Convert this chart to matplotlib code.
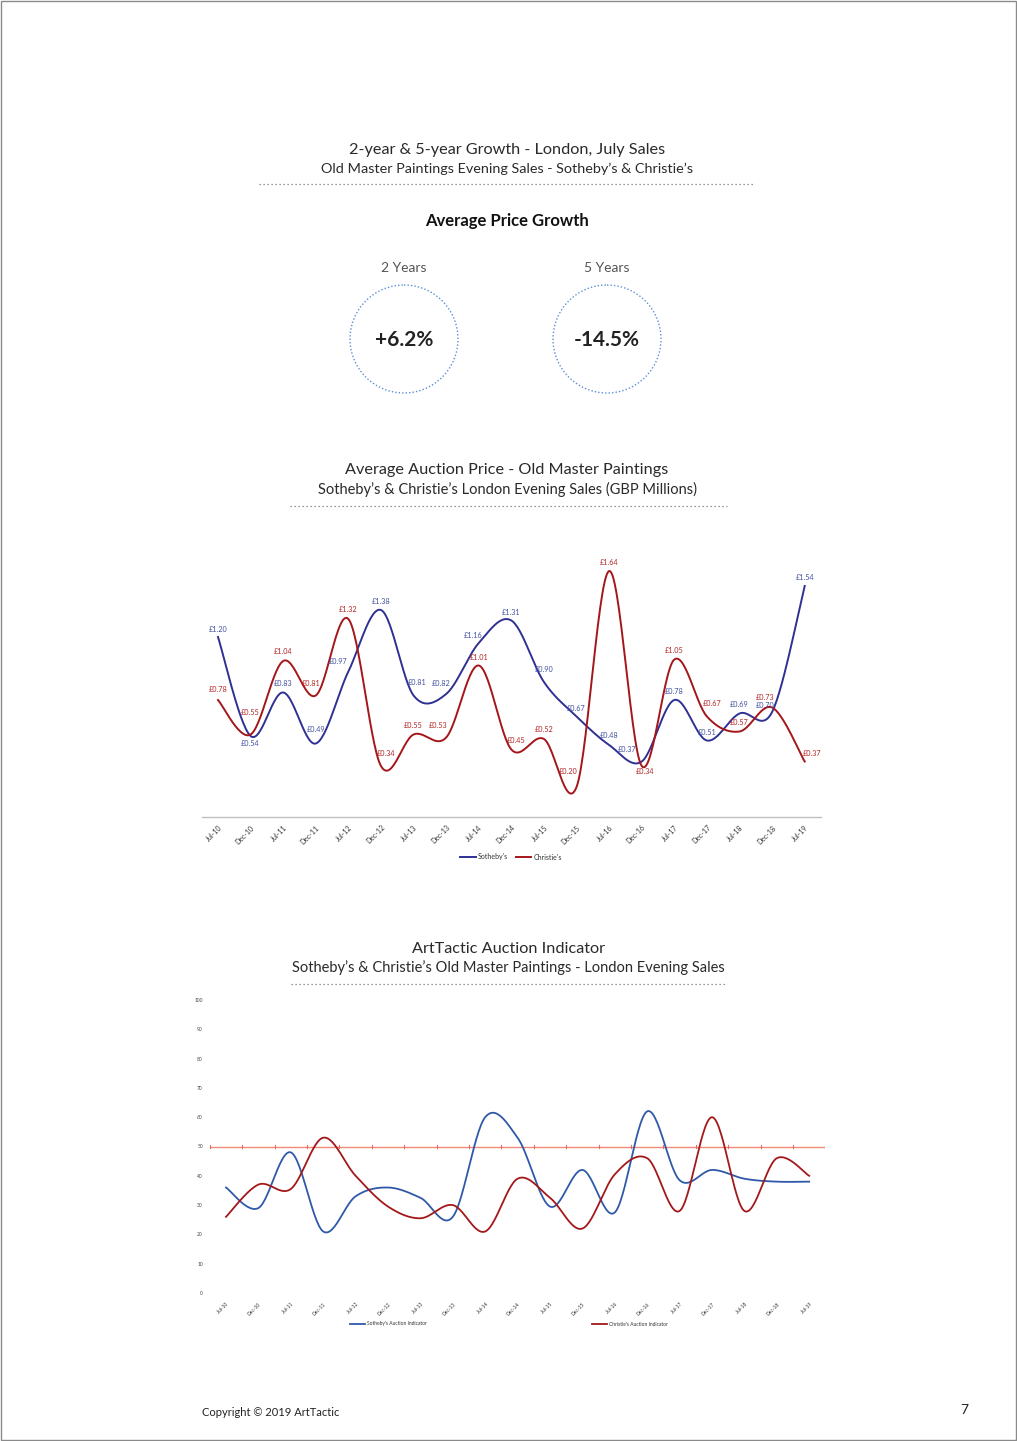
import numpy as np
import matplotlib
matplotlib.use("Agg")
import matplotlib.pyplot as plt
from matplotlib.patches import Circle, Rectangle

plt.rcParams['font.family'] = ['Lato', 'DejaVu Sans']

# ---------------- data ----------------
periods = ["Jul-10", "Dec-10", "Jul-11", "Dec-11", "Jul-12", "Dec-12", "Jul-13",
           "Dec-13", "Jul-14", "Dec-14", "Jul-15", "Dec-15", "Jul-16", "Dec-16",
           "Jul-17", "Dec-17", "Jul-18", "Dec-18", "Jul-19"]

sothebys_price = [1.20, 0.54, 0.83, 0.49, 0.97, 1.38, 0.81, 0.82, 1.16, 1.31,
                  0.90, 0.67, 0.48, 0.37, 0.78, 0.51, 0.69, 0.70, 1.54]
christies_price = [0.78, 0.55, 1.04, 0.81, 1.32, 0.34, 0.55, 0.53, 1.01, 0.45,
                   0.52, 0.20, 1.64, 0.34, 1.05, 0.67, 0.57, 0.73, 0.37]

sothebys_indicator = [36, 29, 48, 21, 33, 36, 32.5, 26, 60, 53,
                      29.5, 42, 27.5, 62, 38.5, 42, 39, 38, 38]
christies_indicator = [26, 37, 35.5, 53, 40, 29.5, 25.5, 30, 21, 39,
                       32.5, 22, 40.5, 46, 28, 60, 28, 46, 40]

growth_labels = ["2 Years", "5 Years"]
growth_values = ["+6.2%", "-14.5%"]

# label offsets (pixels) for the price data labels -- style only
s_off = [(0, 8), (0, -8), (0, 9), (0, 14), (-10, 10), (0, 8), (4, 13), (-5, 10),
         (-6, 7), (0, 8), (0, 12), (0, 8), (0, 10), (-15, 12), (0, 8), (0, 8),
         (0, 9), (-7, 7), (0, 8)]
c_off = [(0, 10), (0, 22), (0, 9), (-5, 12), (0, 9), (5, 12), (0, 9), (-8, 12),
         (0, 8), (5, 9), (0, 9), (-8, 15), (0, 8), (3, -6), (0, 9), (5, 13),
         (0, 9), (-7, 10), (7, 8)]

W, H = 1017, 1441
fig = plt.figure(figsize=(W / 100, H / 100), dpi=100)
fig.patch.set_facecolor("white")


def px_axes(left, top, right, bottom, **kw):
    return fig.add_axes([left / W, 1 - bottom / H, (right - left) / W, (bottom - top) / H], **kw)


# overlay for page decorations
ov = px_axes(0, 0, W, H)
ov.set_xlim(0, W)
ov.set_ylim(H, 0)
ov.axis("off")
ov.set_zorder(-1)

ov.add_patch(Rectangle((0.5, 0.5), W - 2, H - 2, fill=False, ec="#8a8a8a", lw=1))

title_c = "#2a2a2a"
ov.text(507, 150, "2-year & 5-year Growth - London, July Sales", ha="center", va="center",
        fontsize=11.7, color=title_c)
ov.text(507, 169, "Old Master Paintings Evening Sales - Sotheby\u2019s & Christie\u2019s", ha="center",
        va="center", fontsize=10.4, color=title_c)
ov.plot([259, 755], [184, 184], color="#777777", lw=0.9, ls=(0, (1, 2.2)))
ov.text(507, 221, "Average Price Growth", ha="center", va="center", fontsize=12,
        fontweight="bold", color="#111111")

for cx, lab, val in zip([404, 607], growth_labels, growth_values):
    ov.text(cx, 268, lab, ha="center", va="center", fontsize=10, color="#555555")
    ov.add_patch(Circle((cx, 339), 54, fill=False, ec="#5b8fd8", lw=1.0, ls=(0, (1, 1.5))))
    ov.text(cx, 340, val, ha="center", va="center", fontsize=15, color="#222222", fontweight="bold")

ov.text(507, 470, "Average Auction Price - Old Master Paintings", ha="center", va="center",
        fontsize=11.7, color=title_c)
ov.text(507, 489, "Sotheby\u2019s & Christie\u2019s London Evening Sales (GBP Millions)", ha="center",
        va="center", fontsize=10.5, color=title_c)
ov.plot([290, 727], [506, 506], color="#777777", lw=0.9, ls=(0, (1, 2.2)))

ov.text(508, 949, "ArtTactic Auction Indicator", ha="center", va="center",
        fontsize=11.7, color=title_c)
ov.text(508, 968, "Sotheby\u2019s & Christie\u2019s Old Master Paintings - London Evening Sales",
        ha="center", va="center", fontsize=10.5, color=title_c)
ov.plot([291, 727], [984, 984], color="#777777", lw=0.9, ls=(0, (1, 2.2)))

ov.text(202, 1412, "Copyright \u00a9 2019 ArtTactic", ha="left", va="center", fontsize=8, color="#222222")
ov.text(964, 1410, "7", ha="center", va="center", fontsize=10, color="#222222")


def excel_smooth(x, y, n=30):
    pts = np.column_stack([np.asarray(x, float), np.asarray(y, float)])
    out = []
    for i in range(len(pts) - 1):
        p0 = pts[i - 1] if i > 0 else pts[i]
        p1, p2 = pts[i], pts[i + 1]
        p3 = pts[i + 2] if i + 2 < len(pts) else pts[i + 1]
        c1 = p1 + (p2 - p0) / 6
        c2 = p2 - (p3 - p1) / 6
        t = np.linspace(0, 1, n)[:, None]
        seg = (1 - t) ** 3 * p1 + 3 * (1 - t) ** 2 * t * c1 + 3 * (1 - t) * t ** 2 * c2 + t ** 3 * p2
        out.append(seg if i == 0 else seg[1:])
    s = np.vstack(out)
    return s[:, 0], s[:, 1]


# ---------------- middle chart ----------------
blue1 = "#2e3192"
red1 = "#a4161a"
ax = px_axes(201.7, 547, 821, 817)
x = np.arange(len(periods))
xs, ys = excel_smooth(x, sothebys_price)
ax.plot(xs, ys, color=blue1, lw=1.4, label="Sotheby's")
xc, yc = excel_smooth(x, christies_price)
ax.plot(xc, yc, color=red1, lw=1.4, label="Christie's")
ax.set_xlim(-0.5, len(periods) - 0.5)
ax.set_ylim(0, 1.8)
for i in range(len(periods)):
    ax.annotate(f"\u00a3{sothebys_price[i]:.2f}", (x[i], sothebys_price[i]), xytext=s_off[i],
                textcoords="offset pixels", ha="center", va="center", fontsize=5.2, color="#4150a0")
    ax.annotate(f"\u00a3{christies_price[i]:.2f}", (x[i], christies_price[i]), xytext=c_off[i],
                textcoords="offset pixels", ha="center", va="center", fontsize=5.2, color="#b32424")
for s in ["top", "right", "left"]:
    ax.spines[s].set_visible(False)
ax.spines["bottom"].set_color("#bfbfbf")
ax.spines["bottom"].set_linewidth(1)
ax.set_yticks([])
ax.set_xticks(x)
ax.set_xticklabels(periods, rotation=45, ha="right", va="top", rotation_mode="anchor",
                   fontsize=5, color="#333333")
ax.tick_params(axis="x", length=0, pad=5)
ax.patch.set_alpha(0)
ax.legend(loc="center", bbox_to_anchor=(511 / W, 1 - 857 / H), bbox_transform=fig.transFigure,
          ncol=2, frameon=False, fontsize=5, handlelength=2.2, handletextpad=0.3,
          columnspacing=1.2, labelcolor="#333333")

# ---------------- bottom chart ----------------
blue2 = "#2f59a8"
red2 = "#a3181a"
ax2 = px_axes(209.8, 1000, 825.4, 1293)
xs2, ys2 = excel_smooth(x, sothebys_indicator)
ax2.plot(xs2, ys2, color=blue2, lw=1.3, label="Sotheby's Auction Indicator")
xc2, yc2 = excel_smooth(x, christies_indicator)
ax2.plot(xc2, yc2, color=red2, lw=1.3, label="Christie's Auction Indicator")
ax2.axhline(50, color="#f08a78", lw=1, zorder=0)
for b in np.arange(-0.5, len(periods), 1.0):
    ax2.plot([b, b], [49.6, 50.4], color="#e86a58", lw=0.8, zorder=0)
ax2.set_xlim(-0.5, len(periods) - 0.5)
ax2.set_ylim(0, 100)
for s in ["top", "right", "left", "bottom"]:
    ax2.spines[s].set_visible(False)
ax2.set_yticks(np.arange(0, 101, 10))
ax2.set_yticklabels([str(v) for v in range(0, 101, 10)], fontsize=3.5, color="#444444")
ax2.tick_params(axis="y", length=0, pad=5)
ax2.set_xticks(x)
ax2.set_xticklabels(periods, rotation=45, ha="right", va="top", rotation_mode="anchor",
                    fontsize=3.5, color="#333333")
ax2.tick_params(axis="x", length=0, pad=6)
ax2.patch.set_alpha(0)
ax2.legend(loc="center", bbox_to_anchor=(509 / W, 1 - 1324 / H), bbox_transform=fig.transFigure,
           ncol=2, frameon=False, fontsize=3.5, handlelength=3, handletextpad=0.4,
           columnspacing=34, labelcolor="#333333")

fig.savefig("out.png", dpi=100)
